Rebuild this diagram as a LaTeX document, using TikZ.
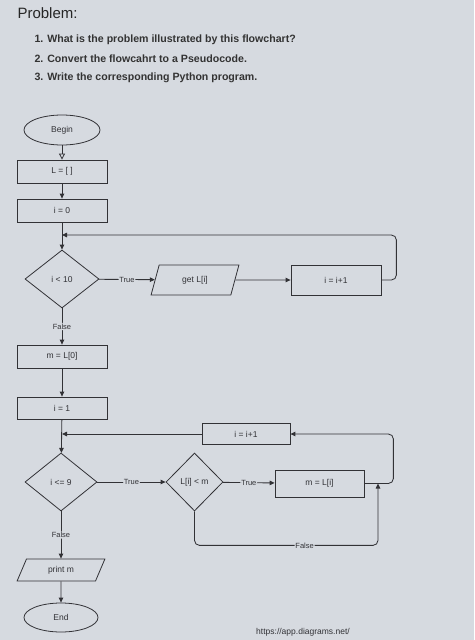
\documentclass[tikz,border=0pt]{standalone}
\usepackage{fontspec}
\setmainfont{Liberation Sans}
\usetikzlibrary{shapes.geometric}
\usetikzlibrary{arrows.meta}
\definecolor{paper}{RGB}{214,218,224}
\definecolor{ink}{RGB}{50,50,54}
\tikzset{x=1pt, y=-1pt, % one unit is one pixel of the reference
every node/.style={text=ink, font=\fontsize{8.5}{10}\selectfont},
terminal/.style={ % Begin and End
ellipse, draw=ink, line width=0.8pt,
minimum width=76pt, minimum height=30pt, inner sep=0pt},
process/.style={ % plain boxes
rectangle, draw=ink, line width=0.8pt,
minimum width=90pt, minimum height=23pt, inner sep=0pt},
decision/.style={ % tests
diamond, draw=ink, line width=0.8pt,
minimum width=74pt, minimum height=58pt, inner sep=0pt},
inout/.style={ % input and output
trapezium, trapezium left angle=70, trapezium right angle=110,
trapezium stretches=true, draw=ink, line width=0.8pt,
minimum width=88pt, minimum height=30pt, inner sep=0pt},
flow/.style={ % connectors
draw=ink, line width=0.85pt, rounded corners=5pt,
-{Triangle[length=5pt,width=4.5pt]}},
flowlabel/.style={fill=paper, inner sep=0.8pt,
font=\fontsize{7.5}{8}\selectfont},
question/.style={anchor=west, text=black!80,
font=\bfseries\fontsize{10.6}{13}\selectfont}}

\begin{document}
\begin{tikzpicture}
    \fill[paper] (0,0) rectangle (474,640);
    \useasboundingbox (0,0) rectangle (474,640);

    % questions
    \node[anchor=west, text=black!85, font=\fontsize{15}{17}\selectfont] (title) at (14,13) {Problem:};
    \node[question] (q1) at (31,40) {1. What is the problem illustrated by this flowchart?};
    \node[question] (q2) at (31,59) {2. Convert the flowcahrt to a Pseudocode.};
    \node[question] (q3) at (31,78) {3. Write the corresponding Python program.};

    % first loop
    \node[terminal] (begin) at (62,130) {Begin};
    \node[process] (init) at (62,171.5) {L = [ ]};
    \node[process] (zero) at (62,210.5) {i = 0};
    \node[decision] (test1) at (62,279) {i {\textless} 10};
    \node[inout] (get) at (195,280) {get L[i]};
    \node[process, minimum height=30pt] (inc1) at (336,280) {i = i+1};
    \coordinate (join1) at (62,235);

    % second loop
    \node[process] (first) at (62,356.5) {m = L[0]};
    \node[process, minimum height=22pt] (one) at (62,408) {i = 1};
    \node[process, minimum width=88pt, minimum height=21pt] (inc2) at (246,434) {i = i+1};
    \node[decision, minimum width=72pt] (test2) at (61,482) {i {\textless}= 9};
    \node[decision, minimum width=57pt] (test3) at (194.5,482) {L[i] {\textless} m};
    \node[process, minimum width=89pt, minimum height=27pt] (swap) at (319.5,483.5) {m = L[i]};
    \coordinate (join2) at (one.south |- inc2.west);
    \coordinate (merge) at (378,483.5);

    % end
    \node[inout, trapezium left angle=66, trapezium right angle=114, minimum height=22pt] (print) at (61,570) {print m};
    \node[terminal, minimum width=74pt, minimum height=29pt] (end) at (61,617.5) {End};
    \node (url) at (303,632) {https://app.diagrams.net/};

    \draw[flow, -{Triangle[open,length=6pt,width=6pt]}] (begin) -- (init);
    \draw[flow] (init) -- (zero);
    \draw[flow] (zero) -- (test1);
    \draw[flow] (test1) -- node[flowlabel, pos=0.5] {True} (get);
    \draw[flow] (get) -- (inc1);
    \draw[flow] (inc1.east) -- ++(15,0) |- (join1);
    \draw[flow] (test1) -- node[flowlabel] {False} (first);
    \draw[flow] (first) -- (one);
    \draw[flow] (one) -- (test2);
    \draw[flow] (inc2.west) -- (join2);
    \draw[flow] (test2) -- node[flowlabel] {True} (test3);
    \draw[flow] (test3) -- node[flowlabel] {True} (swap);
    \draw[flow] (swap.east) -- ++(29,0) |- (inc2.east);
    \draw[flow] (test3.south) -- ++(0,34) -| node[flowlabel, pos=0.3] {False} (merge);
    \draw[flow] (test2) -- node[flowlabel] {False} (print);
    \draw[flow] (print) -- (end);
\end{tikzpicture}
\end{document}
